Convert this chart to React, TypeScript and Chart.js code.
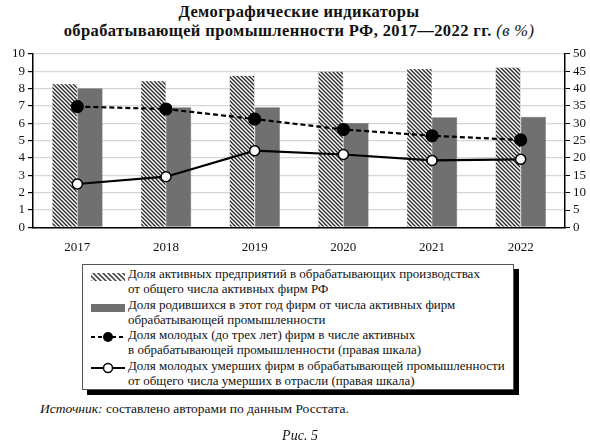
import { useEffect, useRef } from "react";
import { Chart, registerables } from "chart.js";

Chart.register(...registerables);

const years = ["2017", "2018", "2019", "2020", "2021", "2022"];
const activeShare = [8.27, 8.45, 8.75, 9.0, 9.14, 9.23];
const bornShare = [8.02, 6.92, 6.92, 6.02, 6.35, 6.37];
const youngShare = [34.8, 34.1, 31.2, 28.2, 26.4, 25.2];
const youngDeadShare = [12.5, 14.6, 22.1, 21.0, 19.3, 19.6];
const leftTicks = [0, 1, 2, 3, 4, 5, 6, 7, 8, 9, 10];
const rightTicks = [0, 5, 10, 15, 20, 25, 30, 35, 40, 45, 50];

const legendLines = [
  ["Доля активных предприятий в обрабатывающих производствах", "от общего числа активных фирм РФ"],
  ["Доля родившихся в этот год фирм от числа активных фирм", "обрабатывающей промышленности"],
  ["Доля молодых (до трех лет) фирм в числе активных", "в обрабатывающей промышленности (правая шкала)"],
  ["Доля молодых умерших фирм в обрабатывающей промышленности", "от общего числа умерших в отрасли (правая шкала)"],
];

const SERIF = '"Liberation Serif", "Times New Roman", "DejaVu Serif", serif';

function makeHatch(): CanvasPattern | string {
  const c = document.createElement("canvas");
  c.width = 4;
  c.height = 4;
  const g = c.getContext("2d");
  if (!g) return "#888";
  g.fillStyle = "#fff";
  g.fillRect(0, 0, 4, 4);
  g.strokeStyle = "#222";
  g.lineWidth = 1.3;
  g.beginPath();
  g.moveTo(-1, -1);
  g.lineTo(5, 5);
  g.moveTo(-3, 1);
  g.lineTo(1, 5);
  g.moveTo(3, -1);
  g.lineTo(5, 1);
  g.stroke();
  return g.createPattern(c, "repeat") ?? "#888";
}

function LegendMarker({ kind }: { kind: number }) {
  if (kind === 0) {
    return (
      <svg width="34" height="10">
        <defs>
          <pattern id="hl" width="3.5" height="3.5" patternUnits="userSpaceOnUse" patternTransform="rotate(-45)">
            <rect width="3.5" height="3.5" fill="#fff" />
            <rect width="1.4" height="3.5" fill="#222" />
          </pattern>
        </defs>
        <rect x="0" y="1" width="34" height="8" fill="url(#hl)" />
      </svg>
    );
  }
  if (kind === 1) {
    return (
      <svg width="34" height="10">
        <rect x="0" y="1" width="34" height="8" fill="#707070" />
      </svg>
    );
  }
  if (kind === 2) {
    return (
      <svg width="34" height="12">
        <line x1="0" y1="6" x2="34" y2="6" stroke="#000" strokeWidth="2.2" strokeDasharray="4 3" />
        <circle cx="17" cy="6" r="5" fill="#000" />
      </svg>
    );
  }
  return (
    <svg width="34" height="12">
      <line x1="0" y1="6" x2="34" y2="6" stroke="#000" strokeWidth="2" />
      <circle cx="17" cy="6" r="4.5" fill="#fff" stroke="#000" strokeWidth="1.5" />
    </svg>
  );
}

export default function App() {
  const canvasRef = useRef<HTMLCanvasElement>(null);

  useEffect(() => {
    if (!canvasRef.current) return;
    const hatch = makeHatch();
    const tickFont = { family: SERIF, size: 13 };
    const chart = new Chart(canvasRef.current, {
      type: "bar",
      data: {
        labels: years,
        datasets: [
          {
            type: "line",
            data: youngShare,
            yAxisID: "y1",
            borderColor: "#000",
            borderWidth: 2.2,
            borderDash: [5, 3],
            pointRadius: 5.5,
            pointBackgroundColor: "#000",
            pointBorderColor: "#000",
            tension: 0,
            order: 0,
          },
          {
            type: "line",
            data: youngDeadShare,
            yAxisID: "y1",
            borderColor: "#000",
            borderWidth: 2.2,
            pointRadius: 5,
            pointBorderWidth: 1.5,
            pointBackgroundColor: "#fff",
            pointBorderColor: "#000",
            tension: 0,
            order: 0,
          },
          {
            type: "bar",
            data: activeShare,
            yAxisID: "y",
            backgroundColor: hatch as any,
            borderColor: "#bbb",
            borderWidth: 0.5,
            barPercentage: 1,
            categoryPercentage: 0.57,
            order: 1,
          },
          {
            type: "bar",
            data: bornShare,
            yAxisID: "y",
            backgroundColor: "#707070",
            borderColor: "#5a5a5a",
            borderWidth: 0.5,
            barPercentage: 1,
            categoryPercentage: 0.57,
            order: 1,
          },
        ],
      },
      options: {
        responsive: false,
        animation: false,
        layout: { padding: { top: 8, left: 0, right: 0, bottom: 0 } },
        plugins: { legend: { display: false }, tooltip: { enabled: false } },
        scales: {
          x: {
            grid: { display: false },
            border: { color: "#000", width: 1.5 },
            ticks: { color: "#111", font: tickFont, padding: 4 },
          },
          y: {
            position: "left",
            min: 0,
            max: 10,
            afterBuildTicks: (s: any) => {
              s.ticks = leftTicks.map((v) => ({ value: v }));
            },
            afterFit: (s: any) => {
              s.width = 33;
            },
            grid: { color: "#d6d6d6", lineWidth: 1.2, tickColor: "#000", tickLength: 5 },
            border: { color: "#000", width: 1.5 },
            ticks: { color: "#111", font: tickFont, padding: 3, autoSkip: false, stepSize: 1 },
          },
          y1: {
            position: "right",
            min: 0,
            max: 50,
            afterBuildTicks: (s: any) => {
              s.ticks = rightTicks.map((v) => ({ value: v }));
            },
            afterFit: (s: any) => {
              s.width = 25;
            },
            grid: { drawOnChartArea: false, tickColor: "#000", tickLength: 5 },
            border: { color: "#000", width: 1.5 },
            ticks: { color: "#111", font: tickFont, padding: 3, autoSkip: false, stepSize: 5 },
          },
        },
      },
    });
    return () => chart.destroy();
  }, []);

  return (
    <div
      style={{
        position: "fixed",
        left: 0,
        top: 0,
        width: 590,
        height: 447,
        background: "#fff",
        fontFamily: SERIF,
        color: "#111",
      }}
    >
      <div
        style={{
          position: "absolute",
          top: 2,
          left: 0,
          width: 598,
          textAlign: "center",
          fontWeight: "bold",
          fontSize: 16.5,
          lineHeight: "19px",
          letterSpacing: 0.4,
        }}
      >
        Демографические индикаторы
        <br />
        обрабатывающей промышленности РФ, 2017—2022 гг.{" "}
        <span style={{ fontStyle: "italic", fontWeight: "normal" }}>(в %)</span>
      </div>
      <canvas ref={canvasRef} width={590} height={216} style={{ position: "absolute", left: 0, top: 43 }} />
      <div
        style={{
          position: "absolute",
          left: 82,
          top: 264,
          width: 432,
          height: 126,
          border: "1px solid #555",
          boxShadow: "5px 5px 0 #000",
          boxSizing: "border-box",
          background: "#fff",
          padding: "1px 0 0 8px",
        }}
      >
        {legendLines.map((lines, i) => (
          <div key={i} style={{ display: "flex", alignItems: "flex-start" }}>
            <div style={{ width: 37, paddingTop: 2 }}>
              <LegendMarker kind={i} />
            </div>
            <div style={{ fontSize: 13, lineHeight: "15.3px", whiteSpace: "nowrap" }}>
              {lines[0]}
              <br />
              {lines[1]}
            </div>
          </div>
        ))}
      </div>
      <div style={{ position: "absolute", left: 40, top: 401, fontSize: 13.5 }}>
        <i>Источник:</i> составлено авторами по данным Росстата.
      </div>
      <div style={{ position: "absolute", left: 0, width: 600, top: 428, textAlign: "center", fontSize: 14, fontStyle: "italic" }}>
        Рис. 5
      </div>
    </div>
  );
}
